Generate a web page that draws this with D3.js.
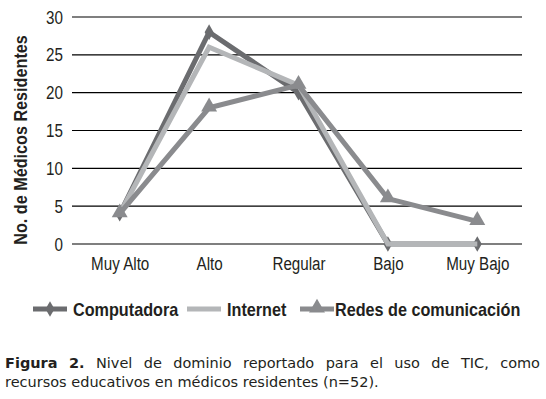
<!DOCTYPE html>
<html>
<head>
<meta charset="utf-8">
<script src="https://cdn.jsdelivr.net/npm/d3@7"></script>
<style>
  body { margin: 0; background: #fff; }
</style>
</head>
<body>
<div id="body"></div>
<script>
// data
var categories = ["Muy Alto", "Alto", "Regular", "Bajo", "Muy Bajo"];
var seriesNames = ["Computadora", "Internet", "Redes de comunicación"];
var computadora = [4, 28, 20, 0, 0];
var internet = [4, 26, 21, 0, 0];
var redes = [4, 18, 21, 6, 3];
var yTicks = [0, 5, 10, 15, 20, 25, 30];

var width = 546, height = 399;
var padding = {top: 17, right: 24, bottom: 155, left: 75};
var font = "Liberation Sans, Arial, sans-serif";
var narrow = 0.8;     // horizontal squeeze for the condensed look
var textColor = "#231f20";

var svg = d3.select("#body").append("svg")
    .attr("width", width)
    .attr("height", height);

var series = [
  {name: seriesNames[0], values: computadora, color: "#6b6c6f", marker: "diamond"},
  {name: seriesNames[1], values: internet, color: "#b4b6b8", marker: "none"},
  {name: seriesNames[2], values: redes, color: "#8a8b8e", marker: "triangle"}
];

var xScale = d3.scalePoint()
    .domain(categories)
    .range([padding.left, width - padding.right])
    .padding(0.5);

var yScale = d3.scaleLinear()
    .domain([0, 30])
    .range([height - padding.bottom, padding.top]);

// gridlines
svg.append("g").selectAll("line")
    .data(yTicks)
    .enter().append("line")
    .attr("x1", padding.left - 3)
    .attr("x2", width - padding.right)
    .attr("y1", function(d){ return yScale(d); })
    .attr("y2", function(d){ return yScale(d); })
    .attr("stroke", "#000")
    .attr("stroke-width", 1.2);

// y axis labels
var yAxis = d3.axisLeft(yScale).tickValues(yTicks).tickSize(0).tickPadding(12);
var gy = svg.append("g")
    .attr("transform", "translate(" + padding.left + ",0)")
    .call(yAxis);
gy.select(".domain").remove();
gy.selectAll("text")
    .attr("font-family", font)
    .attr("font-size", "19px")
    .attr("fill", textColor)
    .attr("x", -12 / narrow)
    .attr("transform", "scale(" + narrow + ",1)");

// x axis labels
var xAxis = d3.axisBottom(xScale).tickSize(0).tickPadding(13);
var gx = svg.append("g")
    .attr("transform", "translate(0," + yScale(0) + ")")
    .call(xAxis);
gx.select(".domain").remove();
gx.selectAll("text")
    .attr("font-family", font)
    .attr("font-size", "19px")
    .attr("fill", textColor)
    .attr("transform", "scale(" + narrow + ",1)");

// y title
svg.append("text")
    .attr("transform", "translate(27,140) rotate(-90) scale(0.9,1)")
    .attr("text-anchor", "middle")
    .attr("font-family", font)
    .attr("font-size", "18px")
    .attr("font-weight", "bold")
    .attr("fill", textColor)
    .text("No. de Médicos Residentes");

var line = d3.line()
    .x(function(d, i){ return xScale(categories[i]); })
    .y(function(d){ return yScale(d); });

var diamond = d3.symbol().type(d3.symbolDiamond).size(70);
var triangle = d3.symbol().type(d3.symbolTriangle).size(110);

function drawMarker(g, s, x, y) {
  if (s.marker === "diamond") {
    g.append("path").attr("d", diamond())
      .attr("transform", "translate(" + x + "," + y + ")")
      .attr("fill", s.color);
  } else if (s.marker === "triangle") {
    g.append("path").attr("d", triangle())
      .attr("transform", "translate(" + x + "," + (y - 1) + ")")
      .attr("fill", s.color);
  }
}

series.forEach(function(s){
  var g = svg.append("g");
  g.append("path")
    .attr("d", line(s.values))
    .attr("fill", "none")
    .attr("stroke", s.color)
    .attr("stroke-width", 5)
    .attr("stroke-linejoin", "miter");
  s.values.forEach(function(v, i){
    drawMarker(g, s, xScale(categories[i]), yScale(v));
  });
});

// legend
var legendX = [33, 187, 300];
var legendY = 309;
series.forEach(function(s, i){
  var g = svg.append("g");
  g.append("line")
    .attr("x1", legendX[i]).attr("x2", legendX[i] + 34)
    .attr("y1", legendY).attr("y2", legendY)
    .attr("stroke", s.color).attr("stroke-width", 5);
  drawMarker(g, s, legendX[i] + 17, legendY);
  var tx = legendX[i] + (i === 2 ? 35 : 40);
  g.append("text")
    .attr("transform", "translate(" + tx + "," + (legendY + 7) + ") scale(0.9,1)")
    .attr("font-family", font)
    .attr("font-size", "18px")
    .attr("font-weight", "bold")
    .attr("fill", textColor)
    .text(s.name);
});

// caption: first line justified word by word, second line left aligned
var capFont = "DejaVu Sans, Verdana, sans-serif";
var capSize = 14.5;
var capWords = ["Figura", "2.", "Nivel", "de", "dominio", "reportado", "para", "el", "uso", "de", "TIC,", "como"];
var capBold = 2;   // first two words in bold

var cap = svg.append("text")
    .attr("y", 368)
    .attr("font-family", capFont)
    .attr("font-size", capSize + "px")
    .attr("fill", textColor);
var spans = capWords.map(function(w, i){
  return cap.append("tspan")
    .attr("font-weight", i < capBold ? "bold" : "normal")
    .text(w);
});
var widths = spans.map(function(t){ return t.node().getComputedTextLength(); });
var gap = (535 - d3.sum(widths)) / (capWords.length - 1);
var cx = 5;
spans.forEach(function(t, i){
  t.attr("x", cx);
  cx += widths[i] + gap;
});

svg.append("text")
    .attr("x", 5).attr("y", 387)
    .attr("font-family", capFont)
    .attr("font-size", capSize + "px")
    .attr("fill", textColor)
    .text("recursos educativos en médicos residentes (n=52).");
</script>
</body>
</html>
